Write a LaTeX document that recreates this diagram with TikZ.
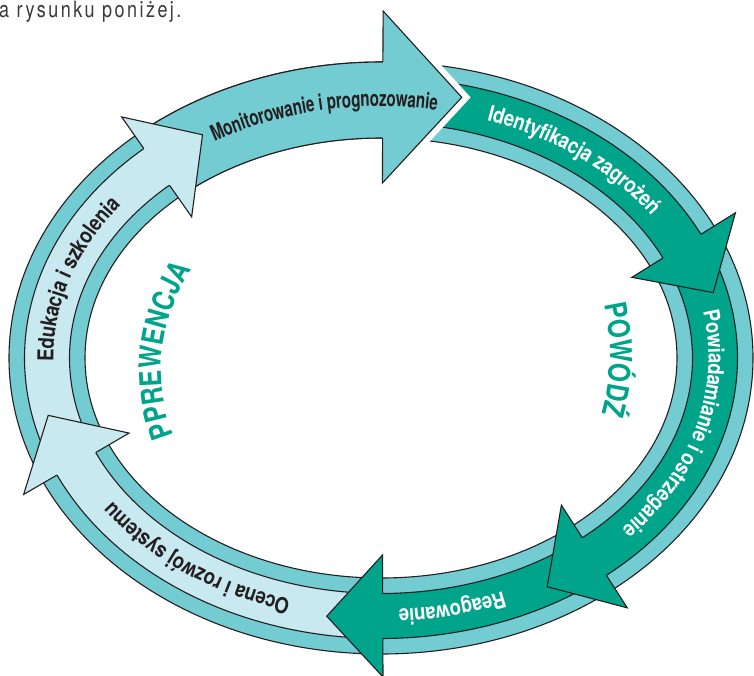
\documentclass[tikz,border=0pt]{standalone}
\usepackage{fontspec}
\setmainfont{TeX Gyre Heros}
\newfontfamily\condfont[FakeStretch=0.69]{TeX Gyre Heros}
\newfontfamily\widefont[FakeStretch=0.84]{TeX Gyre Heros}
\newfontfamily\wordfont[FakeStretch=0.82]{TeX Gyre Heros}
\newfontfamily\capfont[FakeStretch=0.8,LetterSpace=11]{TeX Gyre Heros}
\usetikzlibrary{decorations.text}

\definecolor{ringc}{HTML}{74CCD3}
\definecolor{darkc}{HTML}{00A48B}
\definecolor{lightc}{HTML}{C9E9F0}
\definecolor{inkc}{HTML}{231F20}
\definecolor{greyt}{HTML}{3A3A3A}

\newcommand\lblfont{\condfont\bfseries\fontsize{22}{24}\selectfont}
\newcommand\lblwfont{\widefont\bfseries\fontsize{22}{24}\selectfont}
\newcommand\bigwordfont{\wordfont\bfseries\fontsize{30}{32}\selectfont}

\tikzset{
  edge/.style={draw=inkc, line width=1.1pt},
  halo/.style={draw=white, line width=13pt, line join=miter},
}

% Band of the ring between parameter angles #1 and #2 (ellipse centre 381/358,
% centre-line radii 334 x 258), half width #3, fill #4; both long edges outlined.
\newcommand\ringband[4]{%
  \fill[#4] plot[variable=\t, domain=#1:#2, samples=60]
      ({381+(334+#3)*cos(\t)},{-358-(258+#3)*sin(\t)})
    -- plot[variable=\t, domain=#2:#1, samples=60]
      ({381+(334-#3)*cos(\t)},{-358-(258-#3)*sin(\t)}) -- cycle;
  \draw[edge] plot[variable=\t, domain=#1:#2, samples=60]
      ({381+(334+#3)*cos(\t)},{-358-(258+#3)*sin(\t)});
  \draw[edge] plot[variable=\t, domain=#1:#2, samples=60]
      ({381+(334-#3)*cos(\t)},{-358-(258-#3)*sin(\t)});
}

% Corner points of an arrow head: #1 name, #2 parameter angle of the base,
% #3 half base, #4 length, #5 outward shift, #6 half width of its band.
\newcommand\headpoints[6]{%
  \pgfmathsetmacro\hdC{cos(#2)}%
  \pgfmathsetmacro\hdS{sin(#2)}%
  \pgfmathsetmacro\hdTx{-3.34*\hdS}%
  \pgfmathsetmacro\hdTy{2.58*\hdC}%
  \pgfmathsetmacro\hdL{sqrt(\hdTx*\hdTx+\hdTy*\hdTy)}%
  \pgfmathsetmacro\hdTx{\hdTx/\hdL}%
  \pgfmathsetmacro\hdTy{\hdTy/\hdL}%
  \pgfmathsetmacro\hdPx{381+334*\hdC}%
  \pgfmathsetmacro\hdPy{358+258*\hdS}%
  \coordinate (#1-bo) at ({\hdPx+(#5+#3)*\hdTy},{-\hdPy+(#5+#3)*\hdTx});
  \coordinate (#1-bi) at ({\hdPx+(#5-#3)*\hdTy},{-\hdPy+(#5-#3)*\hdTx});
  \coordinate (#1-tip) at ({\hdPx+#5*\hdTy+#4*\hdTx},{-\hdPy+#5*\hdTx-#4*\hdTy});
  \coordinate (#1-jo) at ({\hdPx+#6*\hdTy},{-\hdPy+#6*\hdTx});
  \coordinate (#1-ji) at ({\hdPx-#6*\hdTy},{-\hdPy-#6*\hdTx});
}
\newcommand\headshape[2]{%
  \fill[#2] (#1-bo) -- (#1-tip) -- (#1-bi) -- cycle;
  \draw[edge] (#1-jo) -- (#1-bo) -- (#1-tip) -- (#1-bi) -- (#1-ji);
}

% Label along the centre line of the ring
\newcommand\bandlabel[5]{%
  \path[decorate, decoration={text along path, text align=center, raise=-6.5pt,
      text color=#3, text={|#4|#5}}]
    plot[variable=\t, domain=#1:#2, samples=80] ({381+334*cos(\t)},{-358-258*sin(\t)});
}

\begin{document}
\begin{tikzpicture}[x=1pt, y=1pt]
  \useasboundingbox (0,0) rectangle (754,-675);
  \fill[white] (0,0) rectangle (754,-675);

  % caption line
  \node[anchor=base west, inner sep=0pt, text=greyt, font=\capfont\fontsize{22.5}{24}\selectfont]
    (caption) at (-1,-17) {a rysunku poniżej.};

  % ring
  \fill[ringc, even odd rule] (381,-358) ellipse[x radius=372pt, y radius=296pt]
                              (381,-358) ellipse[x radius=296pt, y radius=220pt];
  \draw[edge] (381,-358) ellipse[x radius=372pt, y radius=296pt];
  \draw[edge] (381,-358) ellipse[x radius=296pt, y radius=220pt];

  % arrow bodies
  \ringband{229.3}{271.8}{38}{ringc}
  \ringband{271.8}{335.8}{22.5}{darkc}
  \ringband{335.8}{411.8}{22.5}{darkc}
  \ringband{411.8}{451.2}{22.5}{darkc}
  \ringband{451.2}{517.3}{22.5}{lightc}
  \ringband{517.3}{589.3}{22.5}{lightc}

  % arrow heads
  \headpoints{mon}{270.3}{86}{79}{3}{38}
  \headpoints{ide}{334.3}{61}{56}{2}{22.5}
  \headpoints{pow}{50.3}{61}{56}{0}{22.5}
  \headpoints{rea}{89.7}{61}{56}{0}{22.5}
  \headpoints{oce}{155.8}{61}{56}{0}{22.5}
  \headpoints{edu}{227.8}{61}{56}{0}{22.5}

  \draw[halo] (mon-bo) -- (mon-tip) -- (mon-bi);
  \headshape{mon}{ringc}
  \headshape{ide}{darkc}
  \headshape{pow}{darkc}
  \headshape{rea}{darkc}
  \headshape{oce}{lightc}
  \headshape{edu}{lightc}

  % labels on the arrows
  \bandlabel{219}{299}{inkc}{\lblfont}{Monitorowanie i prognozowanie}
  \bandlabel{269.3}{349.3}{white}{\lblwfont}{Identyfikacja zagrożeń}
  \bandlabel{-24.7}{55.3}{white}{\lblwfont}{Powiadamianie i ostrzeganie}
  \bandlabel{36.5}{116.5}{white}{\lblwfont}{Reagowanie}
  \bandlabel{87.5}{167.5}{inkc}{\lblwfont}{Ocena i rozwój systemu}
  \bandlabel{157}{237}{inkc}{\lblwfont}{Edukacja i szkolenia}

  % words inside the ring
  \path[decorate, decoration={text along path, text align=center,
      text color=darkc, text={|\bigwordfont|PPREWENCJA}}]
    plot[variable=\a, domain=146.5:226.5, samples=60] ({339+178*cos(\a)},{-370-178*sin(\a)});
  \path[decorate, decoration={text along path, text align=center,
      text color=darkc, text={|\bigwordfont|POWÓDŹ}}]
    plot[variable=\a, domain=-38.3:41.7, samples=60] ({390+220*cos(\a)},{-353-220*sin(\a)});
\end{tikzpicture}
\end{document}
